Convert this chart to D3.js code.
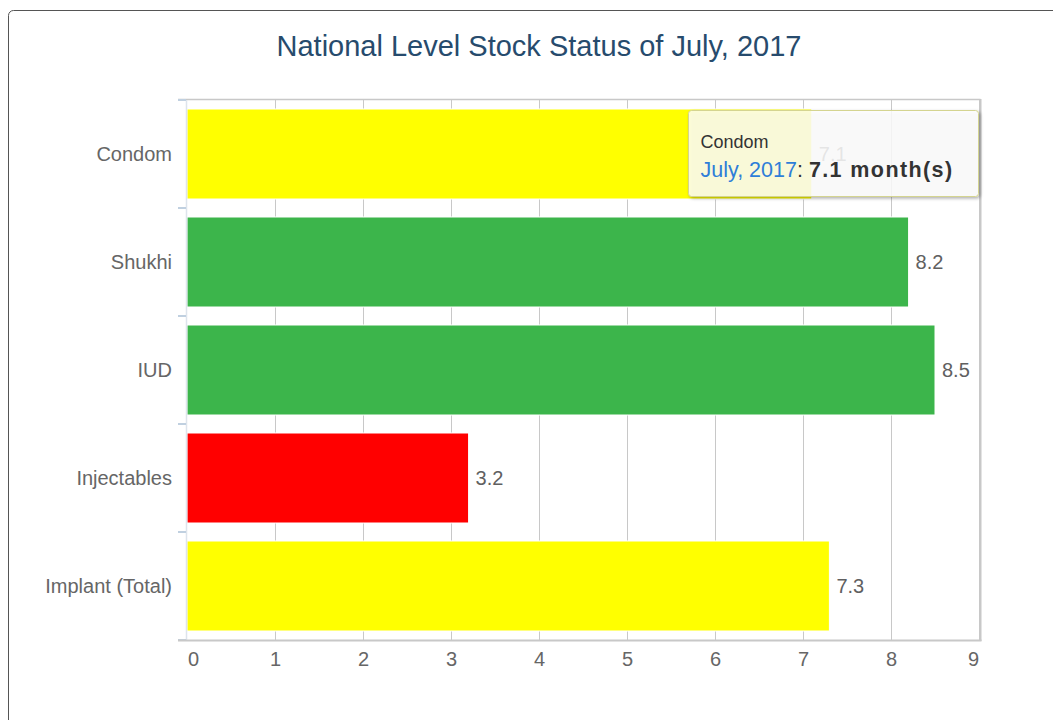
<!DOCTYPE html>
<html>
<head>
<meta charset="utf-8">
<script src="https://cdn.jsdelivr.net/npm/d3@7"></script>
<style>
  body { margin: 0; background: #fff; font-family: "Liberation Sans", Arial, sans-serif; }
</style>
</head>
<body>
<div id="chart"></div>
<script>
// data
const categories = ["Condom", "Shukhi", "IUD", "Injectables", "Implant (Total)"];
const months = [7.1, 8.2, 8.5, 3.2, 7.3];
const xTicks = [0, 1, 2, 3, 4, 5, 6, 7, 8, 9];
const chartTitle = "National Level Stock Status of July, 2017";
const periodName = "July, 2017";

const svgwidth = 1053;
const svgheight = 720;

const plot = { left: 186, right: 980.5, top: 100, bottom: 640 };
const labelSize = '20px';

const svg = d3.select('#chart').append('svg')
    .attr('width', svgwidth).attr('height', svgheight);

// outer frame (runs off the page to the right and bottom)
svg.append('rect')
    .attr('x', 8.5).attr('y', 10.5)
    .attr('width', 1200).attr('height', 900)
    .attr('rx', 5)
    .attr('fill', '#fff')
    .attr('stroke', '#555')
    .attr('stroke-width', 1);

// title
svg.append('text')
    .attr('x', 539).attr('y', 56)
    .attr('text-anchor', 'middle')
    .attr('fill', '#274b6d')
    .style('font-size', '29px')
    .text(chartTitle);

// scales
const x = d3.scaleLinear().domain([0, 9]).range([187, 979]);
const y = d3.scaleBand().domain(categories).range([plot.top, plot.bottom]);
const colour = d3.scaleThreshold().domain([4, 8]).range(['#ff0000', '#ffff00', '#3cb54b']);

// grid lines
svg.append('g').selectAll('line')
    .data(xTicks.slice(1)).enter()
    .append('line')
    .attr('x1', d => Math.round(x(d)) + 0.5).attr('x2', d => Math.round(x(d)) + 0.5)
    .attr('y1', plot.top).attr('y2', plot.bottom)
    .attr('stroke', '#c8c8c8').attr('stroke-width', 1);

// top and right plot border
svg.append('line')
    .attr('x1', 178).attr('x2', plot.right).attr('y1', plot.top - 0.5).attr('y2', plot.top - 0.5)
    .attr('stroke', '#c8c8c8').attr('stroke-width', 1.5);
svg.append('line')
    .attr('x1', plot.right).attr('x2', plot.right).attr('y1', plot.top - 1).attr('y2', plot.bottom + 1)
    .attr('stroke', '#c8c8c8').attr('stroke-width', 2);

// bars
const bandPad = 9;
svg.append('g').selectAll('rect')
    .data(months).enter()
    .append('rect')
    .attr('x', x(0))
    .attr('y', (d, i) => y(categories[i]) + bandPad)
    .attr('width', d => x(d) - x(0))
    .attr('height', y.bandwidth() - 2 * bandPad)
    .attr('fill', d => colour(d))
    .attr('stroke', '#fff').attr('stroke-width', 1);

// data labels
svg.append('g').selectAll('text')
    .data(months).enter()
    .append('text')
    .attr('x', d => x(d) + 7)
    .attr('y', (d, i) => y(categories[i]) + y.bandwidth() / 2 + 7)
    .attr('fill', '#606060')
    .style('font-size', labelSize)
    .text(d => d.toFixed(1));

// y axis (left)
const yAxis = svg.append('g');
yAxis.append('line')
    .attr('x1', 186.5).attr('x2', 186.5).attr('y1', plot.top).attr('y2', plot.bottom)
    .attr('stroke', '#dde4ec').attr('stroke-width', 1.5);
yAxis.selectAll('line.tick')
    .data(d3.range(categories.length + 1)).enter()
    .append('line').attr('class', 'tick')
    .attr('x1', 178).attr('x2', 186)
    .attr('y1', d => plot.top + d * y.bandwidth())
    .attr('y2', d => plot.top + d * y.bandwidth())
    .attr('stroke', '#c0d0e0').attr('stroke-width', 2);
yAxis.selectAll('text')
    .data(categories).enter()
    .append('text')
    .attr('x', 172)
    .attr('y', d => y(d) + y.bandwidth() / 2 + 7)
    .attr('text-anchor', 'end')
    .attr('fill', '#666')
    .style('font-size', labelSize)
    .text(d => d);

// x axis (bottom)
const xAxis = d3.axisBottom(x).tickValues(xTicks).tickSize(0).tickPadding(0);
const xg = svg.append('g').attr('transform', `translate(0, ${plot.bottom})`).call(xAxis);
xg.select('.domain').remove();
xg.append('line')
    .attr('x1', 178).attr('x2', plot.right + 1).attr('y1', 0.5).attr('y2', 0.5)
    .attr('stroke', '#c8c8c8').attr('stroke-width', 2);
xg.selectAll('.tick text')
    .attr('y', 26)
    .attr('dy', null)
    .attr('fill', '#666')
    .style('font-size', labelSize)
    .style('font-family', '"Liberation Sans", Arial, sans-serif')
    .attr('dx', d => d === 0 ? 6 : (d === 9 ? -6 : 0));

// tooltip over Condom
const defs = svg.append('defs');
const f = defs.append('filter').attr('id', 'shadow').attr('x', '-10%').attr('y', '-10%').attr('width', '130%').attr('height', '140%');
f.append('feDropShadow').attr('dx', 1.5).attr('dy', 1.5).attr('stdDeviation', 1.5).attr('flood-color', '#000').attr('flood-opacity', 0.35);
const tip = svg.append('g').attr('transform', 'translate(688.5, 110.5)');
tip.append('rect')
    .attr('width', 290).attr('height', 86).attr('rx', 3)
    .attr('fill', 'rgba(255,255,255,0.82)')
    .attr('stroke', '#d4d490').attr('stroke-width', 1)
    .attr('filter', 'url(#shadow)');
tip.append('text')
    .attr('x', 12).attr('y', 37)
    .attr('fill', '#333')
    .style('font-size', '18px')
    .text(categories[0]);
const tline = tip.append('text')
    .attr('x', 12).attr('y', 66)
    .attr('fill', '#333')
    .style('font-size', '21.5px');
tline.append('tspan').attr('fill', '#2f7ed8').text(periodName);
tline.append('tspan').text(': ');
tline.append('tspan').style('font-weight', 'bold').style('letter-spacing', '1.4px').text(`${months[0]} month(s)`);
</script>
</body>
</html>
